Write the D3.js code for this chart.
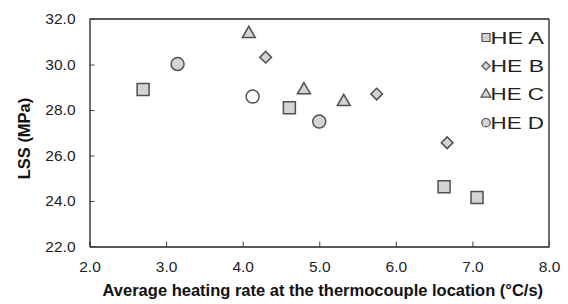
<!DOCTYPE html>
<html><head><meta charset="utf-8">
<script src="https://cdn.jsdelivr.net/npm/d3@7"></script>
<style>
body{margin:0;background:#fff;}
svg{display:block;font-family:"Liberation Sans",Arial,sans-serif;}
</style></head><body>
<svg id="c" width="568" height="304"></svg>
<script>
const seriesNames = ["HE A","HE B","HE C","HE D"];
const heA_x = [2.70, 4.61, 6.63, 7.06];
const heA_y = [28.9, 28.1, 24.63, 24.15];
const heB_x = [4.30, 5.75, 6.67];
const heB_y = [30.32, 28.70, 26.56];
const heC_x = [4.08, 4.80, 5.32];
const heC_y = [31.35, 28.88, 28.36];
const heD_x = [3.15, 4.13, 5.00];
const heD_y = [30.02, 28.59, 27.49];
const heD_hollow = [false, true, false];
const xTicks = [2,3,4,5,6,7,8];
const yTicks = [22,24,26,28,30,32];

const svg = d3.select("#c");
const L=89.5, R=549, T=19, B=246.5;
const x = d3.scaleLinear().domain([2,8]).range([L,R]);
const y = d3.scaleLinear().domain([22,32]).range([B,T]);

const fill="#d4d4d4", stroke="#505050";

svg.append("line").attr("x1",L).attr("x2",R).attr("y1",T).attr("y2",T).attr("stroke","#222").attr("stroke-width",1.3);
svg.append("line").attr("x1",R).attr("x2",R).attr("y1",T).attr("y2",B).attr("stroke","#222").attr("stroke-width",1.3);

const xAxis = svg.append("g").attr("transform",`translate(0,${B})`)
  .call(d3.axisBottom(x).tickValues(xTicks).tickFormat(d3.format(".1f")).tickSizeInner(-5).tickSizeOuter(0).tickPadding(14));
const yAxis = svg.append("g").attr("transform",`translate(${L},0)`)
  .call(d3.axisLeft(y).tickValues(yTicks).tickFormat(d3.format(".1f")).tickSizeInner(-5).tickSizeOuter(0).tickPadding(14));
[xAxis,yAxis].forEach(g=>{
  g.select(".domain").attr("stroke","#222").attr("stroke-width",1.3);
  g.selectAll(".tick line").attr("stroke","#444").attr("stroke-width",1);
  g.selectAll(".tick text").attr("font-size",15.5).attr("fill","#222").attr("font-family","Liberation Sans, Arial, sans-serif");
});

svg.append("text").attr("x",(101.7+544)/2).attr("y",296).attr("text-anchor","middle")
  .attr("font-weight","bold").attr("font-size",16.5).attr("fill","#111")
  .text("Average heating rate at the thermocouple location (°C/s)");
svg.append("text").attr("transform","translate(30,138.5) rotate(-90)").attr("text-anchor","middle")
  .attr("font-weight","bold").attr("font-size",16.5).attr("fill","#111").text("LSS (MPa)");

const sym = [d3.symbolSquare, d3.symbolSquare, d3.symbolTriangle, d3.symbolCircle];
const rot = [0,45,0,0];
const sizes = [144, 68, 72, 133];
const data = [
  heA_x.map((v,i)=>({x:v,y:heA_y[i]})),
  heB_x.map((v,i)=>({x:v,y:heB_y[i]})),
  heC_x.map((v,i)=>({x:v,y:heC_y[i]})),
  heD_x.map((v,i)=>({x:v,y:heD_y[i],h:heD_hollow[i]}))
];
data.forEach((pts,si)=>{
  svg.append("g").selectAll("path").data(pts).join("path")
    .attr("transform",d=>`translate(${x(d.x)},${y(d.y)}) rotate(${rot[si]})`)
    .attr("d",d3.symbol().type(sym[si]).size(sizes[si]))
    .attr("fill",d=>d.h?"#fff":fill).attr("stroke",stroke).attr("stroke-width",1.5);
});

const lg = svg.append("g");
const lsizes=[64,34,42,56];
seriesNames.forEach((n,i)=>{
  const cy = 37.5 + i*28.4;
  lg.append("path").attr("transform",`translate(486,${cy}) rotate(${rot[i]})`)
    .attr("d",d3.symbol().type(sym[i]).size(lsizes[i]))
    .attr("fill",fill).attr("stroke",stroke).attr("stroke-width",1.2);
  lg.append("text").attr("x",490.5).attr("y",cy+6).attr("font-size",17)
    .attr("textLength",53.5).attr("lengthAdjust","spacingAndGlyphs").attr("fill","#222").text(n);
});
</script>
</body></html>
